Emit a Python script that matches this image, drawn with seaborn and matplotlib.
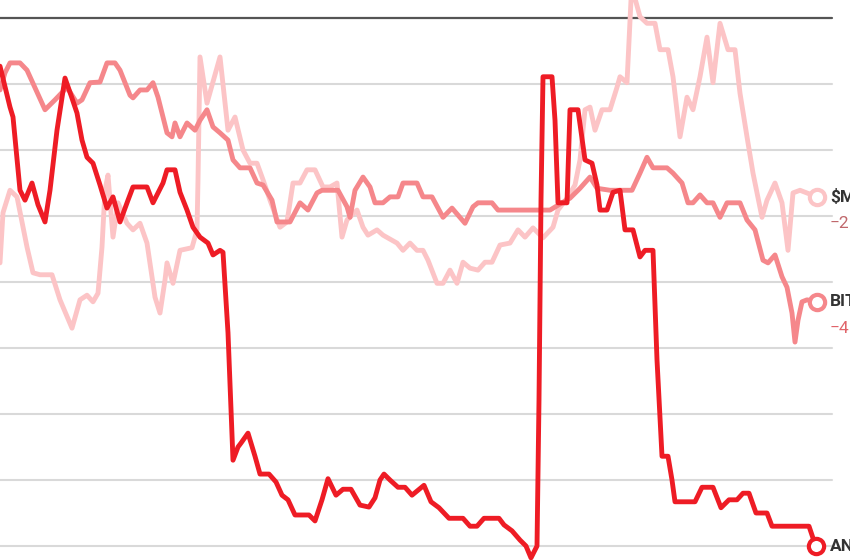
import pandas as pd
import matplotlib.pyplot as plt
import seaborn as sns

# -----------------------------
# Data (percent change)
# -----------------------------
an_day = [0, 10, 13, 20, 25, 32, 38, 45, 50, 57, 65, 71, 77, 82, 87, 93, 100, 107, 113, 120,
          128, 133, 147, 153, 163, 167, 175, 180, 187, 193, 200, 208, 213, 220, 223, 228, 233, 238, 241, 248,
          255, 260, 269, 276, 282, 288, 295, 309, 315, 322, 328, 336, 343, 351, 360, 369, 375, 380, 384, 390,
          398, 405, 412, 424, 431, 439, 449, 463, 470, 477, 484, 499, 504, 512, 520, 526, 531, 537, 539, 541,
          543, 552, 555, 558, 567, 570, 578, 585, 592, 597, 600, 607, 613, 620, 625, 633, 640, 645, 653, 657,
          662, 668, 672, 675, 695, 702, 713, 721, 729, 737, 743, 749, 756, 767, 772, 809, 813, 816]
an_pct = [-7.3, -13.5, -15.0, -26.1, -27.6, -25.0, -28.3, -30.9, -26.1, -17.0, -9.1, -11.7, -14.4, -18.5, -21.1, -22.0, -25.3, -28.8, -27.1, -30.9,
          -27.6, -25.6, -25.6, -28.0, -25.0, -23.0, -23.0, -26.4, -29.1, -31.7, -33.2, -34.1, -35.9, -35.2, -35.5, -47.7, -67.0, -65.0, -64.4, -62.9,
          -66.4, -69.1, -69.1, -70.3, -72.3, -73.0, -75.3, -75.3, -76.2, -73.0, -69.8, -72.3, -71.4, -71.4, -73.8, -74.1, -72.7, -70.0, -69.1, -70.0,
          -71.1, -71.1, -72.3, -70.8, -73.3, -74.2, -75.8, -75.8, -77.0, -77.0, -75.8, -75.8, -76.8, -77.7, -79.1, -80.0, -81.8, -80.0, -57.9, -27.6,
          -8.9, -8.9, -15.5, -28.0, -28.0, -13.9, -13.9, -21.5, -22.0, -25.3, -29.1, -29.1, -26.4, -26.1, -32.1, -32.1, -36.2, -35.2, -35.2, -51.8,
          -66.4, -66.4, -70.0, -73.3, -73.3, -71.1, -71.1, -74.2, -73.0, -73.0, -72.0, -72.0, -75.0, -75.0, -77.0, -77.0, -78.8, -80.0]

bit_day = [0, 5, 10, 20, 27, 36, 45, 55, 67, 77, 82, 90, 100, 107, 115, 120, 130, 133, 140, 147,
           153, 158, 167, 172, 175, 180, 187, 195, 200, 207, 213, 220, 228, 233, 240, 250, 257, 263, 272, 277,
           287, 290, 300, 308, 317, 322, 338, 347, 350, 355, 363, 370, 375, 383, 390, 398, 403, 417, 423, 432,
           443, 452, 465, 473, 478, 492, 498, 550, 562, 570, 580, 590, 597, 610, 632, 640, 647, 653, 667, 673,
           682, 688, 693, 700, 707, 713, 720, 727, 740, 747, 755, 763, 768, 775, 782, 787, 792, 795, 798, 802,
           807, 817]
bit_pct = [-10.9, -8.3, -6.8, -6.8, -7.9, -10.9, -13.9, -12.4, -10.5, -12.9, -12.4, -9.8, -9.7, -6.8, -6.8, -7.9, -11.7, -12.1, -10.9, -10.9,
           -9.8, -12.0, -17.4, -18.0, -15.9, -18.0, -15.9, -17.0, -15.5, -13.9, -16.5, -17.4, -18.5, -21.5, -22.7, -22.7, -25.0, -25.3, -27.6, -30.9,
           -30.9, -30.9, -28.0, -29.1, -26.5, -26.1, -26.1, -28.6, -30.2, -26.1, -24.1, -25.6, -28.0, -28.0, -27.1, -27.1, -25.0, -25.0, -27.1, -27.1,
           -30.2, -28.8, -31.1, -28.6, -28.0, -28.0, -29.1, -29.1, -28.0, -27.3, -25.8, -24.1, -25.8, -26.1, -26.1, -23.5, -21.1, -22.7, -22.7, -23.5,
           -25.0, -28.0, -28.0, -26.8, -28.0, -28.0, -30.2, -28.0, -28.0, -30.6, -32.1, -36.7, -37.1, -35.9, -39.2, -40.8, -44.7, -49.1, -45.8, -43.0,
           -42.7, -43.0]

m_day = [0, 3, 10, 17, 27, 33, 40, 52, 60, 72, 80, 87, 93, 98, 102, 105, 108, 110, 113, 118,
         127, 133, 140, 147, 155, 160, 165, 167, 173, 180, 192, 197, 198, 200, 207, 220, 228, 235, 243, 250,
         257, 263, 270, 280, 287, 293, 300, 307, 315, 323, 330, 337, 342, 347, 357, 363, 368, 377, 383, 397,
         403, 410, 417, 423, 428, 437, 443, 450, 457, 463, 470, 478, 485, 492, 500, 510, 518, 525, 533, 543,
         553, 558, 567, 575, 580, 585, 590, 595, 602, 610, 617, 620, 627, 631, 634, 640, 647, 655, 660, 668,
         673, 680, 687, 693, 700, 707, 713, 720, 728, 735, 740, 747, 753, 762, 767, 775, 782, 788, 793, 800,
         817]
m_pct = [-37.1, -29.5, -26.1, -27.1, -34.7, -38.6, -38.9, -38.9, -42.7, -47.0, -42.7, -42.0, -43.0, -41.7, -34.7, -26.1, -23.8, -27.6, -33.2, -28.0,
         -31.1, -32.1, -31.1, -34.1, -42.3, -44.7, -39.7, -37.1, -40.2, -35.2, -34.8, -32.1, -24.5, -5.9, -12.9, -5.9, -17.0, -15.0, -20.0, -22.0,
         -22.0, -24.5, -27.6, -31.7, -30.9, -25.0, -25.0, -23.0, -23.0, -25.6, -25.6, -25.0, -33.2, -30.6, -29.1, -31.7, -32.9, -32.1, -32.9, -34.1,
         -35.2, -34.1, -35.2, -35.2, -36.7, -40.2, -40.2, -38.2, -40.2, -37.0, -37.9, -38.2, -37.0, -37.0, -34.4, -34.1, -32.1, -33.2, -31.8, -33.3,
         -31.7, -29.1, -27.3, -25.3, -21.5, -13.9, -13.5, -17.0, -13.9, -13.9, -10.5, -8.9, -9.8, 2.7, 3.5, 0.2, -0.8, -0.8, -4.8, -4.8,
         -8.9, -18.0, -12.0, -13.9, -8.9, -2.9, -9.8, -0.8, -4.8, -4.8, -11.4, -18.0, -23.5, -30.2, -27.6, -25.0, -28.0, -35.2, -26.5, -26.1,
         -27.1]

series_names = ['$M', 'BIT', 'AN']
series_sub = ['\u22122', '\u22124', '']
series_colors = ['#fcc4c6', '#f5878b', '#ee1c25']
sub_colors = ['#c0686c', '#e0646a', '#ee1c25']
grid_vals = [0, -10, -20, -30, -40, -50, -60, -70, -80]

# -----------------------------
# Plot
# -----------------------------
sns.set_style("white")
plt.rcParams['font.family'] = ['Liberation Sans Narrow', 'Roboto', 'DejaVu Sans']

fig = plt.figure(figsize=(8.5, 5.6), dpi=100)
ax = fig.add_axes([0, 0, 1, 1])
ax.set_xlim(0, 850)
ax.set_ylim(-82.12, 2.73)
ax.set_axis_off()

grid_end = 832 / 850
for g in grid_vals:
    if g == 0:
        ax.axhline(g, xmin=0, xmax=grid_end, color='#555555', lw=1.6, zorder=1)
    else:
        ax.axhline(g, xmin=0, xmax=grid_end, color='#d9d9d9', lw=1.5, zorder=1)

frames = [
    pd.DataFrame({'day': m_day, 'pct': m_pct}),
    pd.DataFrame({'day': bit_day, 'pct': bit_pct}),
    pd.DataFrame({'day': an_day, 'pct': an_pct}),
]

for i, df in enumerate(frames):
    sns.lineplot(data=df, x='day', y='pct', ax=ax, color=series_colors[i],
                 linewidth=3.5, estimator=None, sort=False, zorder=3 + i,
                 solid_joinstyle='round', solid_capstyle='round')
    last = df.iloc[-1]
    ax.plot(last['day'], last['pct'], marker='o', markersize=11,
            markerfacecolor='white', markeredgecolor=series_colors[i],
            markeredgewidth=3.0, zorder=10 + i, clip_on=False)
    ax.text(830, last['pct'], series_names[i], color='#333333', fontsize=12.5,
            fontweight='bold', va='center', ha='left', zorder=20)
    if series_sub[i]:
        ax.text(830, last['pct'] - 4.0, series_sub[i], color=sub_colors[i],
                fontsize=12.5, va='center', ha='left', zorder=20)

fig.savefig('out.png', dpi=100)
